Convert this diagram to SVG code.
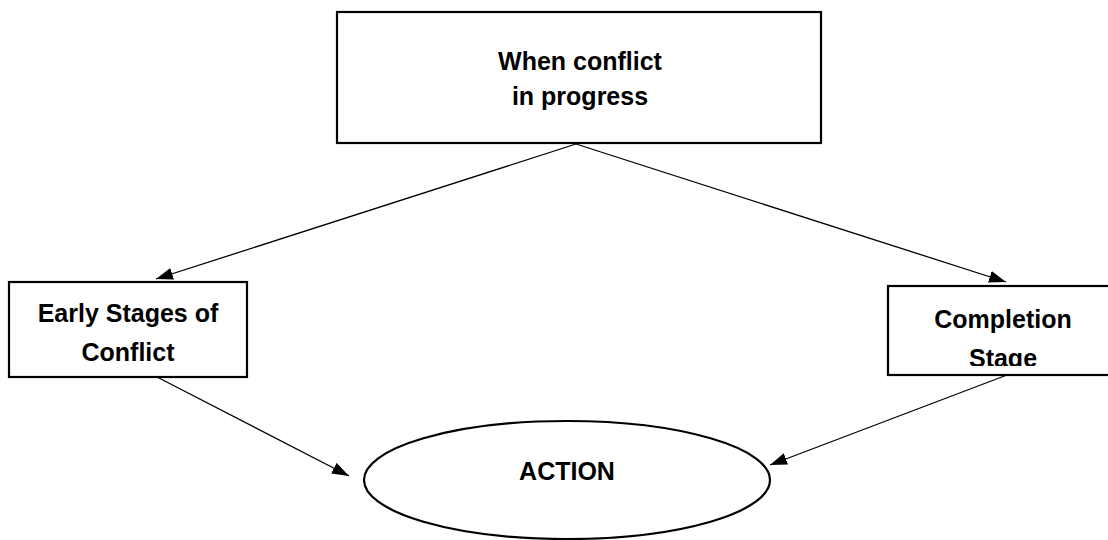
<svg xmlns="http://www.w3.org/2000/svg" width="1108" height="540" viewBox="0 0 1108 540">
  <style>
    .box { fill: #fff; stroke: #000; stroke-width: 2.2; }
    .lbl { font-family: "Liberation Sans", Arial, sans-serif; font-weight: bold; font-size: 25px; fill: #000; text-anchor: middle; }
    .conn { stroke: #000; stroke-width: 1.3; fill: none; marker-end: url(#arrow); }
  </style>
  <defs>
    <marker id="arrow" markerUnits="userSpaceOnUse" markerWidth="18" markerHeight="12" refX="17" refY="6" orient="auto">
      <path d="M0,0 L17,6 L0,12 Z" fill="#000"/>
    </marker>
    <clipPath id="clipRight">
      <rect x="889" y="287" width="230" height="79"/>
    </clipPath>
  </defs>
  <rect width="1108" height="540" fill="#fff"/>
  <g id="connectors">
    <line class="conn" x1="576" y1="144" x2="156" y2="279"/>
    <line class="conn" x1="576" y1="144" x2="1006" y2="282"/>
    <line class="conn" x1="157" y1="377" x2="349" y2="476"/>
    <line class="conn" x1="1007" y1="375" x2="770" y2="465"/>
  </g>
  <g id="node-top">
    <rect class="box" x="337" y="12" width="484" height="131"/>
    <text class="lbl" x="580" y="70">When conflict</text>
    <text class="lbl" x="580" y="105">in progress</text>
  </g>
  <g id="node-early">
    <rect class="box" x="9" y="282" width="238" height="95"/>
    <text class="lbl" x="128" y="322">Early Stages of</text>
    <text class="lbl" x="128" y="361">Conflict</text>
  </g>
  <g id="node-completion">
    <rect class="box" x="888" y="286" width="240" height="89"/>
    <g clip-path="url(#clipRight)">
      <text class="lbl" x="1003" y="328">Completion</text>
      <text class="lbl" x="1003" y="367">Stage</text>
    </g>
  </g>
  <g id="node-action">
    <ellipse class="box" cx="567" cy="480" rx="203" ry="59"/>
    <text class="lbl" x="567" y="480">ACTION</text>
  </g>
</svg>
